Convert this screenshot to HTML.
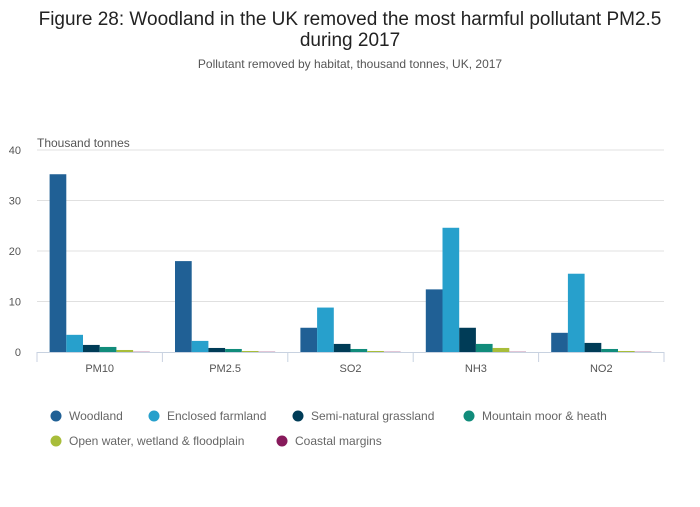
<!DOCTYPE html>
<html><head><meta charset="utf-8"><style>
body{margin:0;background:#fff;font-family:"Liberation Sans",sans-serif;}
svg text{font-family:"Liberation Sans",sans-serif;}
</style></head><body>
<svg id="chart" width="700" height="502" xmlns="http://www.w3.org/2000/svg">
<text x="350" y="25" text-anchor="middle" font-size="19" fill="#222">Figure 28: Woodland in the UK removed the most harmful pollutant PM2.5</text>
<text x="350" y="46" text-anchor="middle" font-size="19" fill="#222">during 2017</text>
<text x="350" y="68" text-anchor="middle" font-size="12" fill="#555">Pollutant removed by habitat, thousand tonnes, UK, 2017</text>
<text x="37" y="147" font-size="12" fill="#555">Thousand tonnes</text>
<g id="grid"></g><g id="bars"></g><g id="axis"></g><g id="legend"></g>
</svg>
<script>
const categories=["PM10","PM2.5","SO2","NH3","NO2"];
const seriesNames=["Woodland","Enclosed farmland","Semi-natural grassland","Mountain moor & heath","Open water, wetland & floodplain","Coastal margins"];
const woodland=[35.2,18,4.8,12.4,3.8];
const farmland=[3.4,2.2,8.8,24.6,15.5];
const grassland=[1.4,0.8,1.6,4.8,1.8];
const moor=[1.0,0.6,0.6,1.6,0.6];
const water=[0.4,0.2,0.2,0.8,0.2];
const coastal=[0.05,0.05,0.05,0.05,0.05];
const yTicks=[0,10,20,30,40];
const series=[woodland,farmland,grassland,moor,water,coastal];
const colors=["#206095","#27a0cc","#003c57","#118c7b","#a8bd3a","#871a5b"];
const NS="http://www.w3.org/2000/svg";
const x0=37,x1=664,yB=352,yT=150;
const y=v=>yB-(v/40)*(yB-yT);
const gw=(x1-x0)/categories.length, bw=16.7, pad=(gw-6*bw)/2;
const xb=(c,s)=>x0+c*gw+pad+s*bw;
function mk(tag,attrs,parent){const e=document.createElementNS(NS,tag);for(const k in attrs)e.setAttribute(k,attrs[k]);parent.appendChild(e);return e;}
const grid=document.getElementById('grid');
yTicks.forEach(t=>{
  if(t>0){const l=mk('line',{x1:x0,x2:x1,y1:y(t),y2:y(t),stroke:'#e0e0e0'},grid);
  
  }
  const tx=mk('text',{x:20,y:y(t)+4,'font-size':11,fill:'#555','text-anchor':'end'},grid);
  
  
  tx.setAttribute('x',21);tx.textContent=t;
});
const bars=document.getElementById('bars');
series.forEach((arr,s)=>arr.forEach((v,c)=>{
  const r=mk('rect',{x:xb(c,s),y:y(v),width:bw,height:yB-y(v),fill:colors[s]},bars);
  
  
}));
const axis=document.getElementById('axis');
const al=mk('line',{x1:x0,x2:x1,y1:yB+0.5,y2:yB+0.5,stroke:'#c8d2e0'},axis);


for(let i=0;i<=categories.length;i++){
  const tk=mk('line',{x1:x0+i*gw,x2:x0+i*gw,y1:yB,y2:yB+10,stroke:'#c8d2e0'},axis);
  
  
}
categories.forEach((c,i)=>{
  const t=mk('text',{x:x0+(i+0.5)*gw,y:yB+20,'font-size':11,fill:'#555','text-anchor':'middle'},axis);
  
  
  t.textContent=c;
});
const lg=document.getElementById('legend');
const pos=[[56,416],[154,416],[298,416],[469,416],[56,441],[282,441]];
seriesNames.forEach((n,i)=>{
  const g=mk('g',{},lg);
  
  
  mk('circle',{cx:pos[i][0],cy:pos[i][1],r:5.5,fill:colors[i]},g);
  const t=mk('text',{x:pos[i][0]+13,y:pos[i][1]+4,'font-size':12,fill:'#666'},g);
  t.textContent=n;
});
</script>
</body></html>
